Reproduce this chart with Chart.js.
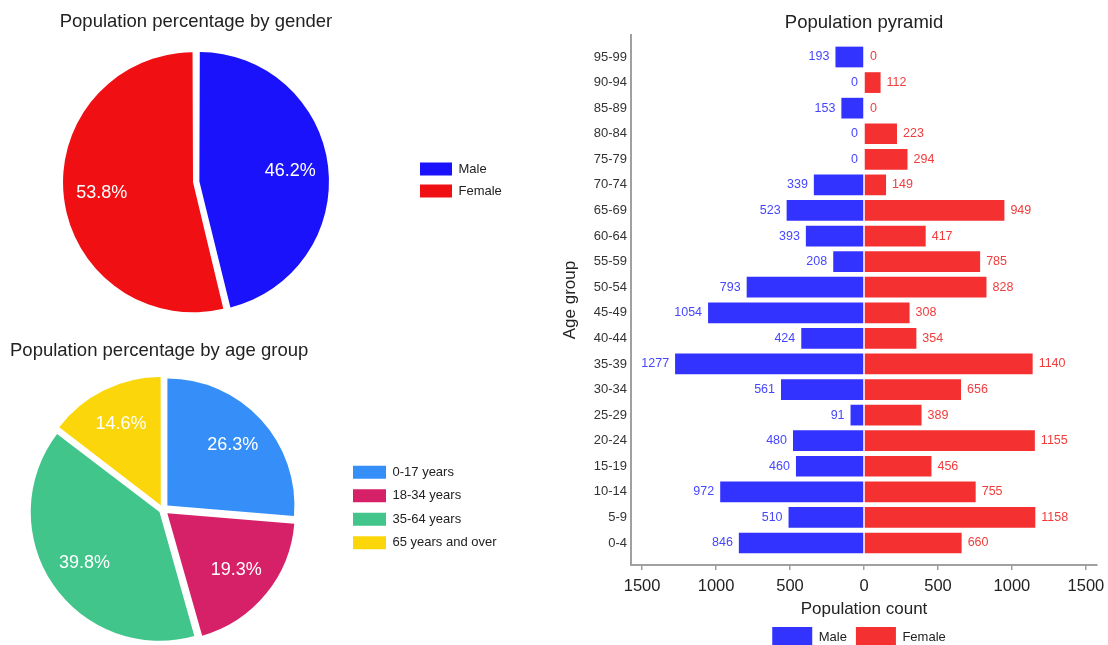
<!DOCTYPE html>
<html>
<head>
    <meta charset="utf-8">
    <script src="https://cdn.jsdelivr.net/npm/chart.js@4"></script>
    <title>Population</title>
    <style>
        html, body { margin: 0; padding: 0; background: #fff; overflow: hidden; }
        body { width: 1108px; height: 645px; position: relative; }
        .box { position: absolute; }
        #genderBox { left: 0; top: 0; width: 540px; height: 321px; }
        #ageBox { left: 0; top: 330px; width: 540px; height: 318px; }
        #pyramidBox { left: 540px; top: 0; width: 580px; height: 657px; }
    </style>
</head>
<body>

    <div class="box" id="genderBox"><canvas id="chartGender"></canvas></div>
    <div class="box" id="ageBox"><canvas id="chartAge"></canvas></div>
    <div class="box" id="pyramidBox"><canvas id="chartPyramid"></canvas></div>

    <script type="text/javascript">
        const genderLabels = ['Male', 'Female'];
        const genderShare = [46.2, 53.8];

        const ageGroupLabels = ['0-17 years', '18-34 years', '35-64 years', '65 years and over'];
        const ageGroupShare = [26.3, 19.3, 39.8, 14.6];

        const ageLabels = ['0-4', '5-9', '10-14', '15-19', '20-24', '25-29', '30-34', '35-39', '40-44', '45-49',
                           '50-54', '55-59', '60-64', '65-69', '70-74', '75-79', '80-84', '85-89', '90-94', '95-99'];
        const maleCount = [846, 510, 972, 460, 480, 91, 561, 1277, 424, 1054, 793, 208, 393, 523, 339, 0, 0, 153, 0, 193];
        const femaleCount = [660, 1158, 755, 456, 1155, 389, 656, 1140, 354, 308, 828, 785, 417, 949, 149, 294, 223, 0, 112, 0];
        const countTicks = [-1500, -1000, -500, 0, 500, 1000, 1500];

        const FONT = '"Liberation Sans", Arial, sans-serif';
        Chart.defaults.font.family = FONT;
        Chart.defaults.color = '#222';
        Chart.defaults.animation = false;

        // chart.js moves a slice out by offset/4 * (2 - sin(angle)), so solve for an even gap
        function sliceOffset(gap) {
            return ctx => {
                const total = ctx.dataset.data.reduce((a, b) => a + b, 0);
                const angle = Math.min(Math.PI, 2 * Math.PI * ctx.raw / total);
                return gap * 4 / (2 - Math.sin(angle));
            };
        }

        const sliceLabels = {
            id: 'sliceLabels',
            afterDatasetsDraw(chart, args, opts) {
                const ctx = chart.ctx;
                const values = chart.data.datasets[0].data;
                ctx.save();
                ctx.font = '18px ' + FONT;
                ctx.fillStyle = '#fff';
                ctx.textAlign = 'center';
                ctx.textBaseline = 'middle';
                chart.getDatasetMeta(0).data.forEach((arc, i) => {
                    const p = arc.getProps(['x', 'y', 'startAngle', 'endAngle', 'outerRadius'], true);
                    const mid = (p.startAngle + p.endAngle) / 2;
                    const shift = arc.options.offset / 4 * (2 - Math.sin(Math.min(Math.PI, p.endAngle - p.startAngle)));
                    const r = p.outerRadius * opts.at + shift;
                    ctx.fillText(values[i].toFixed(1) + '%', p.x + Math.cos(mid) * r, p.y + Math.sin(mid) * r);
                });
                ctx.restore();
            }
        };

        // moves the legend: x puts a side legend at a fixed spot, dx/dy nudge it
        const legendSpot = {
            id: 'legendSpot',
            afterLayout(chart, args, opts) {
                const lg = chart.legend;
                if (!lg) return;
                if (opts.x !== undefined) {
                    lg.left = opts.x - lg.options.labels.padding;
                    lg.right = chart.width;
                }
                if (opts.dx) { lg.left += opts.dx; lg.right += opts.dx; }
                if (opts.dy) { lg.top += opts.dy; lg.bottom += opts.dy; }
            }
        };

        const barValues = {
            id: 'barValues',
            afterDatasetsDraw(chart) {
                const ctx = chart.ctx;
                ctx.save();
                ctx.font = '12.5px ' + FONT;
                ctx.textBaseline = 'middle';
                chart.data.datasets.forEach((ds, d) => {
                    const counts = d === 0 ? maleCount : femaleCount;
                    ctx.fillStyle = ds.valueColor;
                    ctx.textAlign = d === 0 ? 'right' : 'left';
                    chart.getDatasetMeta(d).data.forEach((bar, i) => {
                        const x = d === 0 ? bar.x - 6 : bar.x + 6;
                        ctx.fillText(String(counts[i]), x, bar.y);
                    });
                });
                ctx.restore();
            }
        };

        new Chart(document.getElementById('chartGender'), {
            type: 'pie',
            data: {
                labels: genderLabels,
                datasets: [{
                    data: genderShare,
                    backgroundColor: ['#1912fa', '#f01014'],
                    borderWidth: 0,
                    radius: 127,
                    offset: sliceOffset(6)
                }]
            },
            options: {
                responsive: true,
                maintainAspectRatio: false,
                layout: { padding: { left: 0, right: 147 } },
                plugins: {
                    title: {
                        display: true,
                        text: 'Population percentage by gender',
                        fullSize: false,
                        color: '#222',
                        font: { size: 18.5, weight: 'normal' },
                        padding: { top: 11, bottom: 9.8 }
                    },
                    legend: {
                        position: 'right',
                        fullSize: false,
                        maxWidth: 1,
                        labels: { boxWidth: 32, boxHeight: 13, padding: 9, color: '#222', font: { size: 13 } }
                    },
                    tooltip: { enabled: false },
                    legendSpot: { x: 420, dy: -2 },
                    sliceLabels: { at: 0.7 }
                }
            },
            plugins: [sliceLabels, legendSpot]
        });

        new Chart(document.getElementById('chartAge'), {
            type: 'pie',
            data: {
                labels: ageGroupLabels,
                datasets: [{
                    data: ageGroupShare,
                    backgroundColor: ['#368ff9', '#d62168', '#42c58a', '#fad60a'],
                    borderWidth: 0,
                    radius: 127,
                    offset: sliceOffset(6)
                }]
            },
            options: {
                responsive: true,
                maintainAspectRatio: false,
                layout: { padding: { left: 10, right: 223 } },
                plugins: {
                    title: {
                        display: true,
                        text: 'Population percentage by age group',
                        align: 'start',
                        color: '#222',
                        font: { size: 18.5, weight: 'normal' },
                        padding: { top: 10, bottom: 9 }
                    },
                    legend: {
                        position: 'right',
                        fullSize: false,
                        maxWidth: 1,
                        labels: { boxWidth: 33, boxHeight: 13, padding: 10.5, color: '#222', font: { size: 13 } }
                    },
                    tooltip: { enabled: false },
                    legendSpot: { x: 353, dy: -2 },
                    sliceLabels: { at: 0.7 }
                }
            },
            plugins: [sliceLabels, legendSpot]
        });

        new Chart(document.getElementById('chartPyramid'), {
            type: 'bar',
            data: {
                datasets: [
                    {
                        label: 'Male',
                        data: maleCount.map((v, i) => ({ x: -v, y: i })),
                        backgroundColor: '#3333ff',
                        valueColor: '#4646ff',
                        borderWidth: 0,
                        grouped: false
                    },
                    {
                        label: 'Female',
                        data: femaleCount.map((v, i) => ({ x: v, y: i })),
                        backgroundColor: '#f53030',
                        valueColor: '#f23c3c',
                        borderWidth: 0,
                        grouped: false
                    }
                ]
            },
            options: {
                indexAxis: 'y',
                responsive: true,
                maintainAspectRatio: false,
                categoryPercentage: 1,
                barPercentage: 0.81,
                // canvas runs past the window on the right, so this keeps the plot edge at 1097
                layout: { padding: { left: 0, right: 23, top: 0, bottom: 0 } },
                scales: {
                    x: {
                        type: 'linear',
                        min: -1575,
                        max: 1575,
                        afterBuildTicks: s => { s.ticks = countTicks.map(v => ({ value: v })); },
                        afterFit: s => { s.height = 53; },
                        ticks: {
                            callback: v => Math.abs(v),
                            color: '#222',
                            font: { size: 16.5 },
                            padding: 7,
                            maxRotation: 0
                        },
                        grid: { drawOnChartArea: false, drawTicks: true, tickLength: 5, color: '#a0a0a0', lineWidth: 1.5 },
                        border: { display: true, color: '#a0a0a0', width: 2 },
                        title: {
                            display: true,
                            text: 'Population count',
                            color: '#222',
                            font: { size: 17 },
                            padding: { top: 0, bottom: -2 }
                        }
                    },
                    y: {
                        type: 'linear',
                        min: -0.86,
                        max: 19.86,
                        offset: false,
                        afterBuildTicks: s => { s.ticks = ageLabels.map((_, i) => ({ value: i })); },
                        afterFit: s => { s.width = 91; },
                        ticks: {
                            callback: v => ageLabels[v],
                            color: '#333',
                            font: { size: 13 },
                            padding: 4,
                            autoSkip: false
                        },
                        grid: { display: false, drawTicks: false },
                        border: { display: true, color: '#a0a0a0', width: 2 },
                        title: {
                            display: true,
                            text: 'Age group',
                            color: '#222',
                            font: { size: 17 },
                            padding: { top: 20, bottom: 0 }
                        }
                    }
                },
                plugins: {
                    title: {
                        display: true,
                        text: 'Population pyramid',
                        fullSize: false,
                        color: '#222',
                        font: { size: 18.5, weight: 'normal' },
                        padding: { top: 12, bottom: 0.8 }
                    },
                    legend: {
                        position: 'bottom',
                        fullSize: false,
                        labels: { boxWidth: 40, boxHeight: 20, padding: 9, color: '#222', font: { size: 13 } }
                    },
                    tooltip: { enabled: false },
                    legendSpot: { dx: -5 }
                }
            },
            plugins: [barValues, legendSpot]
        });
    </script>

</body>
</html>
